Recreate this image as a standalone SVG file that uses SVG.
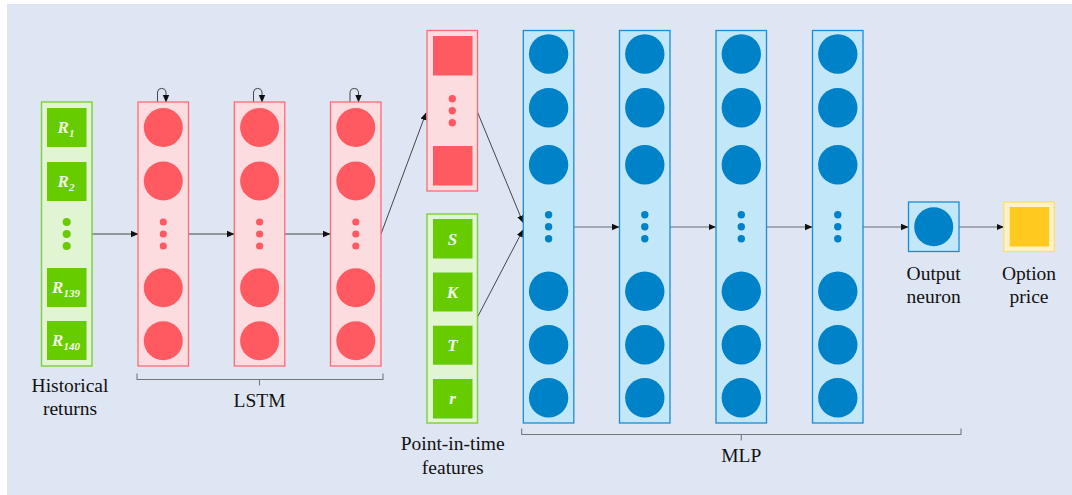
<svg xmlns="http://www.w3.org/2000/svg" width="1072" height="495" viewBox="0 0 1072 495">
<defs>
<style>
.gcol{fill:#e2f5d3;stroke:#82d144;stroke-width:1.5}
.gsq{fill:#66cc00}
.rcol{fill:#fddcdf;stroke:#ff6b73;stroke-width:1.3}
.rc{fill:#ff5a61}
.bcol{fill:#c1e7f8;stroke:#1a8cd8;stroke-width:1.3}
.bc{fill:#0082c8}
.sqt{font-family:"Liberation Serif","Times New Roman","DejaVu Serif",serif;font-style:italic;font-weight:bold;font-size:17px;fill:#f4f9ee;text-anchor:middle}
.sub{font-size:11px}
.lbl{font-family:"Liberation Serif","Times New Roman","DejaVu Serif",serif;font-size:19.5px;fill:#111;text-anchor:middle}
.conn{fill:none;stroke:#333;stroke-width:0.9}
.connb{fill:none;stroke:#8e939b;stroke-width:1.3}
.brace{fill:none;stroke:#777;stroke-width:1.1}
</style>
<marker id="ah" markerWidth="8" markerHeight="8" refX="7" refY="4" orient="auto" markerUnits="userSpaceOnUse">
<path d="M0,0.8 L7.5,4 L0,7.2 Z" fill="#111"/>
</marker>
</defs>
<rect x="0" y="0" width="1072" height="495" fill="#ffffff"/>
<rect x="7" y="4" width="1065" height="491" fill="#dfe6f3"/>

<g id="connectors">
<line class="conn" x1="92" y1="234" x2="138" y2="234" marker-end="url(#ah)"/>
<line class="conn" x1="189" y1="234" x2="234" y2="234" marker-end="url(#ah)"/>
<line class="conn" x1="285" y1="234" x2="330" y2="234" marker-end="url(#ah)"/>
<path class="conn" d="M157.5,102 V92 A4.3,4.3 0 0 1 166,92 V102" marker-end="url(#ah)"/>
<path class="conn" d="M253.5,102 V92 A4.3,4.3 0 0 1 262,92 V102" marker-end="url(#ah)"/>
<path class="conn" d="M350,102 V92 A4.3,4.3 0 0 1 358.5,92 V102" marker-end="url(#ah)"/>
<line class="conn" x1="381" y1="234" x2="426" y2="113" marker-end="url(#ah)"/>
<line class="conn" x1="477" y1="111" x2="523" y2="222.5" marker-end="url(#ah)"/>
<line class="conn" x1="477" y1="318" x2="523" y2="230" marker-end="url(#ah)"/>
<line class="connb" x1="574" y1="227" x2="619" y2="227" marker-end="url(#ah)"/>
<line class="connb" x1="670" y1="227" x2="715.5" y2="227" marker-end="url(#ah)"/>
<line class="connb" x1="767" y1="227" x2="812" y2="227" marker-end="url(#ah)"/>
<line class="connb" x1="863" y1="227" x2="908" y2="227" marker-end="url(#ah)"/>
<line class="connb" x1="959" y1="227" x2="1003.5" y2="227" marker-end="url(#ah)"/>
</g>

<g id="historical-returns">
<rect class="gcol" x="41.5" y="102" width="50.5" height="264"/>
<rect class="gsq" x="47" y="108" width="39.5" height="39"/>
<rect class="gsq" x="47" y="162" width="39.5" height="39"/>
<circle cx="66.7" cy="222" r="4" fill="#66cc00"/>
<circle cx="66.7" cy="234" r="4" fill="#66cc00"/>
<circle cx="66.7" cy="246" r="4" fill="#66cc00"/>
<rect class="gsq" x="47" y="268" width="39.5" height="39"/>
<rect class="gsq" x="47" y="321" width="39.5" height="39"/>
<text class="sqt" x="66" y="133">R<tspan class="sub" dy="4">1</tspan></text>
<text class="sqt" x="66" y="187">R<tspan class="sub" dy="4">2</tspan></text>
<text class="sqt" x="66" y="293">R<tspan class="sub" dy="4">139</tspan></text>
<text class="sqt" x="66" y="346">R<tspan class="sub" dy="4">140</tspan></text>
<text class="lbl" x="70" y="392">Historical</text>
<text class="lbl" x="70" y="415">returns</text>
</g>

<g id="lstm-1">
<rect class="rcol" x="138" y="102" width="50.5" height="264"/>
<circle class="rc" cx="163.3" cy="127.5" r="19.5"/>
<circle class="rc" cx="163.3" cy="181" r="19.5"/>
<circle class="rc" cx="163.3" cy="222" r="3.6"/>
<circle class="rc" cx="163.3" cy="234" r="3.6"/>
<circle class="rc" cx="163.3" cy="246" r="3.6"/>
<circle class="rc" cx="163.3" cy="287.7" r="19.5"/>
<circle class="rc" cx="163.3" cy="340.7" r="19.5"/>
</g>
<g id="lstm-2">
<rect class="rcol" x="234.3" y="102" width="50.5" height="264"/>
<circle class="rc" cx="259.6" cy="127.5" r="19.5"/>
<circle class="rc" cx="259.6" cy="181" r="19.5"/>
<circle class="rc" cx="259.6" cy="222" r="3.6"/>
<circle class="rc" cx="259.6" cy="234" r="3.6"/>
<circle class="rc" cx="259.6" cy="246" r="3.6"/>
<circle class="rc" cx="259.6" cy="287.7" r="19.5"/>
<circle class="rc" cx="259.6" cy="340.7" r="19.5"/>
</g>
<g id="lstm-3">
<rect class="rcol" x="330.5" y="102" width="50.5" height="264"/>
<circle class="rc" cx="355.8" cy="127.5" r="19.5"/>
<circle class="rc" cx="355.8" cy="181" r="19.5"/>
<circle class="rc" cx="355.8" cy="222" r="3.6"/>
<circle class="rc" cx="355.8" cy="234" r="3.6"/>
<circle class="rc" cx="355.8" cy="246" r="3.6"/>
<circle class="rc" cx="355.8" cy="287.7" r="19.5"/>
<circle class="rc" cx="355.8" cy="340.7" r="19.5"/>
</g>
<g id="lstm-brace">
<path class="brace" d="M137,373.5 V379.5 H383 V373.5 M259.5,379.5 V385.5"/>
<text class="lbl" x="259.5" y="407">LSTM</text>
</g>

<g id="lstm-output">
<rect class="rcol" x="427" y="30.5" width="50.5" height="160.5"/>
<rect class="rc" x="433" y="36" width="39.5" height="39.5"/>
<circle class="rc" cx="452.3" cy="98.7" r="3.7"/>
<circle class="rc" cx="452.3" cy="110.7" r="3.7"/>
<circle class="rc" cx="452.3" cy="122.7" r="3.7"/>
<rect class="rc" x="433" y="146" width="39.5" height="39.5"/>
</g>

<g id="point-in-time-features">
<rect class="gcol" x="427" y="214" width="50.5" height="209"/>
<rect class="gsq" x="433" y="219" width="39.5" height="39.5"/>
<rect class="gsq" x="433" y="272.5" width="39.5" height="39"/>
<rect class="gsq" x="433" y="325.7" width="39.5" height="39"/>
<rect class="gsq" x="433" y="379" width="39.5" height="39.5"/>
<text class="sqt" x="452.5" y="244.5">S</text>
<text class="sqt" x="452.5" y="297.5">K</text>
<text class="sqt" x="452.5" y="351">T</text>
<text class="sqt" x="452.5" y="404">r</text>
<text class="lbl" x="452.7" y="450">Point-in-time</text>
<text class="lbl" x="452.7" y="473.5">features</text>
</g>

<g id="mlp-1">
<rect class="bcol" x="523.3" y="30.5" width="50.5" height="392.5"/>
<circle class="bc" cx="548.6" cy="54" r="19.7"/>
<circle class="bc" cx="548.6" cy="107.7" r="19.7"/>
<circle class="bc" cx="548.6" cy="164.7" r="19.7"/>
<circle class="bc" cx="548.6" cy="214.7" r="3.7"/>
<circle class="bc" cx="548.6" cy="226.7" r="3.7"/>
<circle class="bc" cx="548.6" cy="238.7" r="3.7"/>
<circle class="bc" cx="548.6" cy="291.3" r="19.7"/>
<circle class="bc" cx="548.6" cy="344.7" r="19.7"/>
<circle class="bc" cx="548.6" cy="397.7" r="19.7"/>
</g>
<g id="mlp-2">
<rect class="bcol" x="619.5" y="30.5" width="50.5" height="392.5"/>
<circle class="bc" cx="644.8" cy="54" r="19.7"/>
<circle class="bc" cx="644.8" cy="107.7" r="19.7"/>
<circle class="bc" cx="644.8" cy="164.7" r="19.7"/>
<circle class="bc" cx="644.8" cy="214.7" r="3.7"/>
<circle class="bc" cx="644.8" cy="226.7" r="3.7"/>
<circle class="bc" cx="644.8" cy="238.7" r="3.7"/>
<circle class="bc" cx="644.8" cy="291.3" r="19.7"/>
<circle class="bc" cx="644.8" cy="344.7" r="19.7"/>
<circle class="bc" cx="644.8" cy="397.7" r="19.7"/>
</g>
<g id="mlp-3">
<rect class="bcol" x="716" y="30.5" width="50.5" height="392.5"/>
<circle class="bc" cx="741.3" cy="54" r="19.7"/>
<circle class="bc" cx="741.3" cy="107.7" r="19.7"/>
<circle class="bc" cx="741.3" cy="164.7" r="19.7"/>
<circle class="bc" cx="741.3" cy="214.7" r="3.7"/>
<circle class="bc" cx="741.3" cy="226.7" r="3.7"/>
<circle class="bc" cx="741.3" cy="238.7" r="3.7"/>
<circle class="bc" cx="741.3" cy="291.3" r="19.7"/>
<circle class="bc" cx="741.3" cy="344.7" r="19.7"/>
<circle class="bc" cx="741.3" cy="397.7" r="19.7"/>
</g>
<g id="mlp-4">
<rect class="bcol" x="812.5" y="30.5" width="50.5" height="392.5"/>
<circle class="bc" cx="837.8" cy="54" r="19.7"/>
<circle class="bc" cx="837.8" cy="107.7" r="19.7"/>
<circle class="bc" cx="837.8" cy="164.7" r="19.7"/>
<circle class="bc" cx="837.8" cy="214.7" r="3.7"/>
<circle class="bc" cx="837.8" cy="226.7" r="3.7"/>
<circle class="bc" cx="837.8" cy="238.7" r="3.7"/>
<circle class="bc" cx="837.8" cy="291.3" r="19.7"/>
<circle class="bc" cx="837.8" cy="344.7" r="19.7"/>
<circle class="bc" cx="837.8" cy="397.7" r="19.7"/>
</g>
<g id="mlp-brace">
<path class="brace" d="M521.7,428.5 V434.5 H961 V428.5 M741.3,434.5 V440.5"/>
<text class="lbl" x="741.3" y="462">MLP</text>
</g>

<g id="output-neuron">
<rect class="bcol" x="908.5" y="202" width="50.5" height="49.5"/>
<circle class="bc" cx="933.7" cy="226.7" r="19.5"/>
<text class="lbl" x="933.7" y="279.5">Output</text>
<text class="lbl" x="933.7" y="303">neuron</text>
</g>

<g id="option-price">
<rect x="1003.8" y="202" width="50.5" height="49.5" fill="#fff2cc" stroke="#ffdd66" stroke-width="1.3"/>
<rect x="1009.7" y="207" width="39.5" height="39.5" fill="#ffca1f"/>
<text class="lbl" x="1029" y="279.5">Option</text>
<text class="lbl" x="1029" y="303">price</text>
</g>
</svg>
